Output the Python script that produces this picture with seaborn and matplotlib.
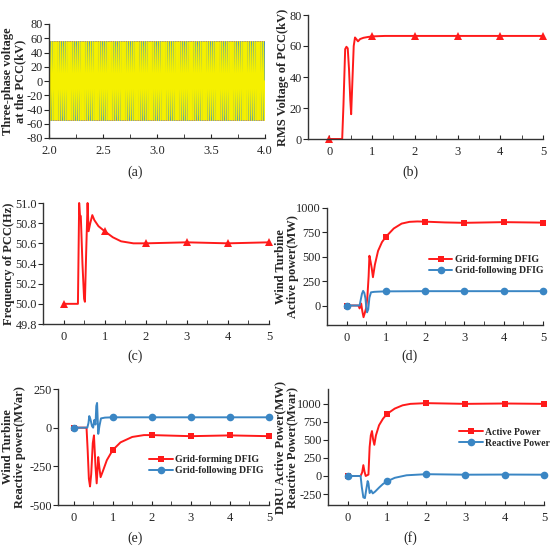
import numpy as np
import pandas as pd
import seaborn as sns
import matplotlib.pyplot as plt
from matplotlib.ticker import MultipleLocator, FormatStrFormatter

sns.set_style("ticks")
plt.rcParams["font.family"] = ["Liberation Serif", "DejaVu Serif"]
plt.rcParams["axes.unicode_minus"] = False

RED = "#ff1a1a"
BLUE = "#3a86c4"

# (a) one 50 Hz cycle of phase A (kV), 12 samples, repeated over 2-4 s
cycle_a = [0, 27.5, 47.6, 55, 47.6, 27.5, 0, -27.5, -47.6, -55, -47.6, -27.5]
n_cycles = 100
samples_per_s = 600

# (b) RMS voltage of PCC
t_b = [0, 0.3, 0.33, 0.37, 0.4, 0.43, 0.46, 0.49, 0.51, 0.54, 0.57, 0.6, 0.63, 0.67, 0.72,
       0.8, 0.9, 1.0, 1.3, 2, 3, 4, 5]
v_b = [0, 0, 22, 58, 59.5, 58.5, 45, 25, 16, 38, 60, 65.5, 64.5, 63, 64.5,
       65.3, 65.8, 66.2, 66.5, 66.5, 66.5, 66.5, 66.5]

# (c) frequency of PCC
t_c = [0, 0.35, 0.38, 0.4, 0.42, 0.46, 0.5, 0.52, 0.55, 0.585, 0.61, 0.65, 0.7, 0.75,
       0.85, 1.0, 1.2, 1.4, 1.7, 2, 3, 4, 5]
f_c = [50.0, 50.0, 51.0, 50.88, 50.87, 50.4, 50.05, 50.02, 50.5, 51.0, 50.72, 50.8, 50.88, 50.83,
       50.77, 50.72, 50.66, 50.62, 50.6, 50.6, 50.61, 50.6, 50.61]

# (d) wind turbine active power
t_d_gfm = [0, 0.3, 0.33, 0.37, 0.4, 0.43, 0.46, 0.5, 0.53, 0.56, 0.58, 0.61, 0.64, 0.67,
           0.72, 0.8, 0.9, 1.0, 1.2, 1.4, 1.6, 1.8, 2, 2.5, 3, 4, 5]
p_d_gfm = [0, 0, -30, 20, -60, -120, -80, -20, 100, 300, 510, 450, 380, 290,
           420, 560, 650, 705, 790, 840, 858, 862, 860, 852, 848, 855, 850]
t_d_gfl = [0, 0.33, 0.36, 0.39, 0.42, 0.45, 0.48, 0.5, 0.52, 0.55, 0.58, 0.62, 0.7, 0.8, 1, 2, 3, 4, 5]
p_d_gfl = [0, 0, 60, 120, 150, 130, 70, -20, -70, -40, 80, 135, 140, 142, 145, 147, 147, 147, 147]

# (e) wind turbine reactive power
t_e_gfm = [0, 0.33, 0.36, 0.39, 0.42, 0.45, 0.49, 0.52, 0.56, 0.59, 0.63, 0.66, 0.69,
           0.75, 0.85, 1.0, 1.2, 1.5, 1.8, 2, 3, 4, 5]
q_e_gfm = [0, 0, -150, -330, -380, -300, -100, -50, -250, -360, -190, -260, -320,
           -280, -210, -145, -95, -60, -48, -48, -55, -50, -55]
t_e_gfl = [0, 0.35, 0.38, 0.4, 0.43, 0.47, 0.5, 0.53, 0.56, 0.58, 0.6, 0.63, 0.66, 0.7,
           0.8, 1, 2, 3, 4, 5]
q_e_gfl = [0, 0, 30, 75, 55, 10, 0, 50, 20, 140, 160, -40, 10, 60,
           65, 67, 67, 67, 67, 67]

# (f) DRU power
t_f_p = [0, 0.33, 0.37, 0.4, 0.43, 0.46, 0.53, 0.56, 0.59, 0.62, 0.65, 0.68, 0.72, 0.8,
         0.9, 1.0, 1.2, 1.4, 1.6, 2, 3, 4, 5]
p_f = [0, 0, 50, 150, 60, 0, 20, 400, 560, 620, 500, 430, 560, 700,
       790, 855, 930, 975, 995, 1005, 995, 1000, 995]
t_f_q = [0, 0.33, 0.36, 0.4, 0.44, 0.47, 0.51, 0.53, 0.56, 0.6, 0.64, 0.7, 0.8, 0.9,
         1.0, 1.2, 1.5, 2, 3, 4, 5]
q_f = [0, 0, -150, -295, -305, -200, -70, -100, -235, -200, -240, -215, -160, -110,
       -75, -25, 10, 25, 18, 20, 18]

W, H = 550, 547
fig = plt.figure(figsize=(W / 100, H / 100), dpi=100)


def make_ax(left, right, top, bottom):
    ax = fig.add_axes([left / W, 1 - bottom / H, (right - left) / W, (bottom - top) / H])
    ax._px = (left, right)
    return ax


def style_ax(ax, xlim, ylim, yticks, ylabel, label_x, xmajor=1, xminor=0.5):
    ax.set_xlim(*xlim)
    ax.set_ylim(*ylim)
    ax.set_yticks(yticks)
    ax.xaxis.set_major_locator(MultipleLocator(xmajor))
    ax.xaxis.set_minor_locator(MultipleLocator(xminor))
    ax.tick_params(axis="x", which="both", direction="in", length=3, labelsize=9, pad=5)
    ax.tick_params(axis="y", direction="out", length=3.5, labelsize=8.8, pad=1)
    for s in ["top", "right"]:
        ax.spines[s].set_visible(False)
    for s in ["left", "bottom"]:
        ax.spines[s].set_linewidth(1.0)
        ax.spines[s].set_color("#333333")
    ax.set_xlabel("")
    ax.set_ylabel(ylabel, fontsize=9, fontweight="bold", linespacing=1.0)
    left, right = ax._px
    ax.yaxis.set_label_coords((label_x - left) / (right - left), 0.5)


def series(ax, t, y, color, marker, label=None, ms=5):
    t = np.asarray(t, dtype=float)
    idx = [i for i, v in enumerate(t) if v in (0, 1, 2, 3, 4, 5)]
    df = pd.DataFrame({"t": t, "y": y})
    sns.lineplot(data=df, x="t", y="y", ax=ax, color=color, lw=1.4, marker=marker,
                 markevery=idx, markersize=ms, markeredgewidth=0, label=label,
                 sort=False, estimator=None, clip_on=False)


# (a)
ax = make_ax(49, 265, 24, 138)
per_phase = np.array(cycle_a * n_cycles + [0])
t_a = 2 + np.arange(len(per_phase)) / samples_per_s
for shift, col in [(8, "#e8413a"), (4, "#3b8fc9"), (0, "#f5f000")]:
    df = pd.DataFrame({"t": t_a, "v": np.roll(per_phase, shift)})
    sns.lineplot(data=df, x="t", y="v", ax=ax, color=col, lw=0.9, estimator=None, sort=False)
style_ax(ax, (2, 4), (-80, 80), range(-80, 81, 20), "Three-phase voltage\nat the PCC(kV)", 26,
         xmajor=0.5, xminor=0.25)
ax.xaxis.set_major_formatter(FormatStrFormatter("%.1f"))

# (b)
ax = make_ax(308, 543, 15, 139)
series(ax, t_b, v_b, RED, "^", ms=6)
style_ax(ax, (-0.5, 5), (0, 80), range(0, 81, 20), "RMS Voltage of PCC(kV)", 289)

# (c)
ax = make_ax(43, 269, 203, 324)
series(ax, t_c, f_c, RED, "^", ms=6)
style_ax(ax, (-0.5, 5), (49.8, 51.0), np.arange(49.8, 51.01, 0.2), "Frequency of PCC(Hz)", 15)
ax.yaxis.set_major_formatter(FormatStrFormatter("%.1f"))

legend_kw = dict(frameon=False, handlelength=2.4, handletextpad=0.25, labelspacing=0.2,
                 borderpad=0, prop={"family": ["Liberation Serif"], "weight": "bold", "size": 7})

# (d)
ax = make_ax(327, 543, 208, 325)
series(ax, t_d_gfm, p_d_gfm, RED, "s", "Grid-forming DFIG")
series(ax, t_d_gfl, p_d_gfl, BLUE, "o", "Grid-following DFIG", ms=5.5)
style_ax(ax, (-0.5, 5), (-200, 1000), range(0, 1001, 250), "Wind Turbine\nActive power(MW)", 299)
ax.legend(loc="center left", bbox_to_anchor=(0.45, 0.51), **legend_kw)

# (e)
ax = make_ax(58, 269, 389, 505)
series(ax, t_e_gfm, q_e_gfm, RED, "s", "Grid-forming DFIG")
series(ax, t_e_gfl, q_e_gfl, BLUE, "o", "Grid-following DFIG", ms=5.5)
style_ax(ax, (-0.4, 5), (-500, 250), range(-500, 251, 250),
         "Wind Turbine\nReactive power(MVar)", 26)
ax.legend(loc="center left", bbox_to_anchor=(0.41, 0.345), **legend_kw)

# (f)
ax = make_ax(328, 544, 389, 505)
series(ax, t_f_p, p_f, RED, "s", "Active Power")
series(ax, t_f_q, q_f, BLUE, "o", "Reactive Power", ms=5.5)
style_ax(ax, (-0.5, 5), (-400, 1200), range(-250, 1001, 250),
         "DRU Active Power(MW)\nReactive Power(Mvar)", 298)
ax.legend(loc="center left", bbox_to_anchor=(0.585, 0.58), **legend_kw)

for lab, x, y in [("(a)", 135, 172), ("(b)", 410, 172), ("(c)", 135, 356),
                  ("(d)", 410, 356), ("(e)", 135, 538), ("(f)", 410, 538)]:
    fig.text(x / W, 1 - y / H, lab, ha="center", va="center", fontsize=10)

fig.savefig("out.png", dpi=100)
